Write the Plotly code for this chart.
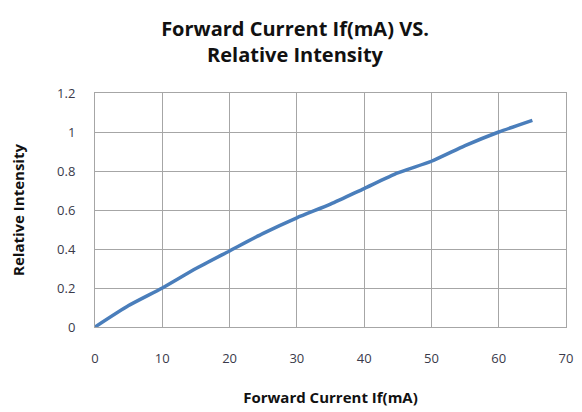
import plotly.graph_objects as go

current_ma = [0, 5, 10, 15, 20, 25, 30, 35, 40, 45, 50, 55, 60, 65]
rel_intensity = [0, 0.11, 0.2, 0.3, 0.39, 0.48, 0.56, 0.63, 0.71, 0.79, 0.85, 0.93, 1.0, 1.06]

x_ticks = [0, 10, 20, 30, 40, 50, 60, 70]
y_ticks = [0, 0.2, 0.4, 0.6, 0.8, 1.0, 1.2]
y_tick_text = ["0", "0.2", "0.4", "0.6", "0.8", "1", "1.2"]

grid = "#a6a6a6"
font = "Open Sans"

fig = go.Figure(go.Scatter(
    x=current_ma, y=rel_intensity, mode="lines",
    line=dict(color="#4a7ebb", width=3.5, shape="spline", smoothing=0.6),
))

# page body adds an 8px margin, so the figure is a bit smaller than the window
fig.update_layout(
    width=574, height=404,
    margin=dict(l=86, r=9, t=85, b=85),
    paper_bgcolor="white", plot_bgcolor="white",
    showlegend=False,
    font=dict(family=font, color="#333"),
    title=dict(
        text="<b>Forward Current If(mA) VS.<br>Relative Intensity</b>",
        x=0.5, xanchor="center", y=0.93, yanchor="top",
        font=dict(family=font, size=20, color="#111"),
    ),
)
fig.update_xaxes(
    range=[0, 70], tickvals=x_ticks, ticks="outside", ticklen=19, tickcolor="rgba(0,0,0,0)",
    showgrid=True, gridcolor=grid, gridwidth=1,
    showline=True, linecolor=grid, linewidth=1, mirror=True, zeroline=False,
    tickfont=dict(size=13, color="#3a3a4a"),
    title=dict(text="<b>Forward Current If(mA)</b>", font=dict(size=15, color="#111"), standoff=26),
)
fig.update_yaxes(
    range=[0, 1.2], tickvals=y_ticks, ticktext=y_tick_text, ticks="outside", ticklen=16,
    tickcolor="rgba(0,0,0,0)",
    showgrid=True, gridcolor=grid, gridwidth=1,
    showline=True, linecolor=grid, linewidth=1, mirror=True, zeroline=False,
    tickfont=dict(size=13, color="#3a3a4a"),
    title=dict(text="<b>Relative Intensity</b>", font=dict(size=15, color="#111"), standoff=30),
)

fig.write_html("out.html")
